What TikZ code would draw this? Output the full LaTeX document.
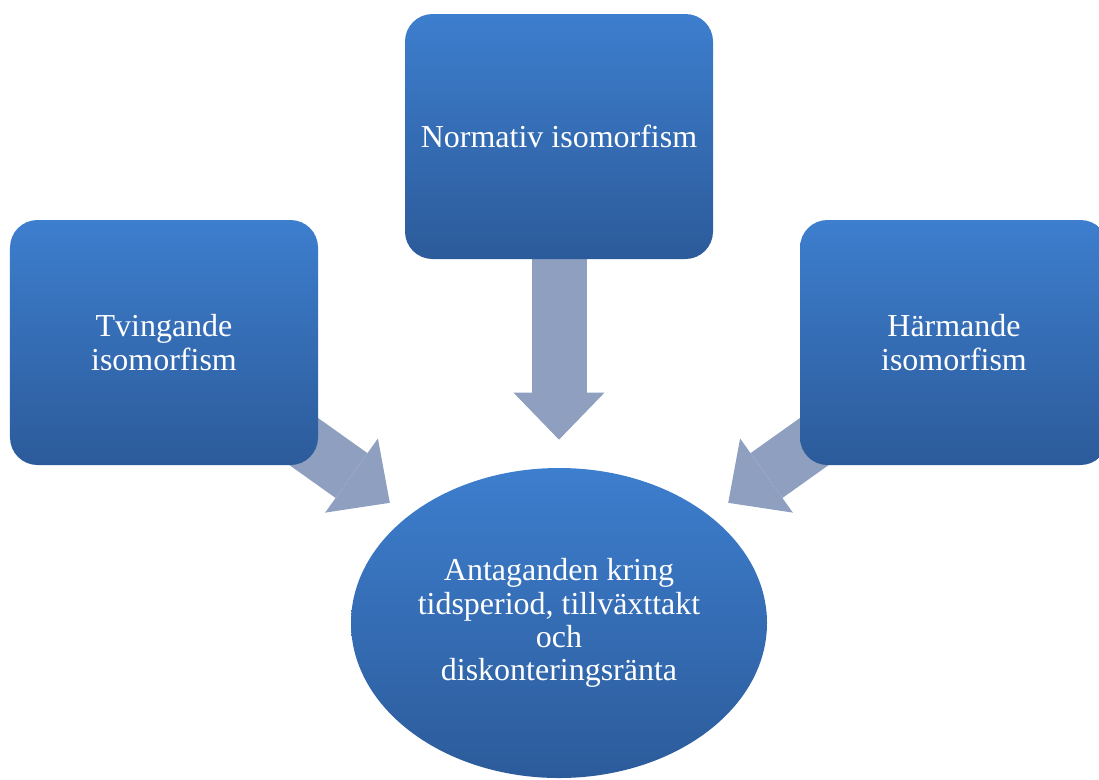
\documentclass[tikz,border=0pt]{standalone}
\usepackage{fontspec}
\setmainfont{Liberation Serif}
\usepackage{xcolor}
\usetikzlibrary{shapes.geometric, arrows.meta, backgrounds}
\definecolor{boxtop}{HTML}{3D7ECE}
\definecolor{boxbottom}{HTML}{2C5B9A}
\definecolor{arrowgray}{HTML}{8E9FBF}
\tikzset{
    isobox/.style = {rectangle, rounded corners=0.55cm, minimum width=6.16cm, minimum height=4.9cm, align=center, top color=boxtop, bottom color=boxbottom, text=white, font=\fontsize{18.2}{18.9}\selectfont},
    antbox/.style = {ellipse, minimum width=8.32cm, minimum height=6.2cm, inner sep=0pt, align=center, top color=boxtop, bottom color=boxbottom, text=white, font=\fontsize{18.2}{18.9}\selectfont},
    bigarrow/.style = {draw=arrowgray, line width=1.1cm, -{Triangle[width=1.82cm, length=0.94cm, line width=0pt]}, shorten <=-1cm}
}

\begin{document}
\begin{tikzpicture}

\useasboundingbox (0,0) rectangle (21.98,-15.58);

\node (normativ) [isobox] at (11.18,-2.73) {Normativ isomorfism};
\node (tvingande) [isobox] at (3.28,-6.85) {Tvingande\\isomorfism};
\node (harmande) [isobox] at (19.08,-6.85) {Härmande\\isomorfism};
\node (antaganden) [antbox] at (11.18,-12.46) {Antaganden kring\\tidsperiod, tillväxttakt\\och\\diskonteringsränta};

\begin{scope}[on background layer]
\draw [bigarrow, shorten >=0.56cm] (normativ) -- (antaganden);
\draw [bigarrow, shorten >=0.45cm] (tvingande) -- (antaganden);
\draw [bigarrow, shorten >=0.45cm] (harmande) -- (antaganden);
\end{scope}
\end{tikzpicture}
\end{document}
